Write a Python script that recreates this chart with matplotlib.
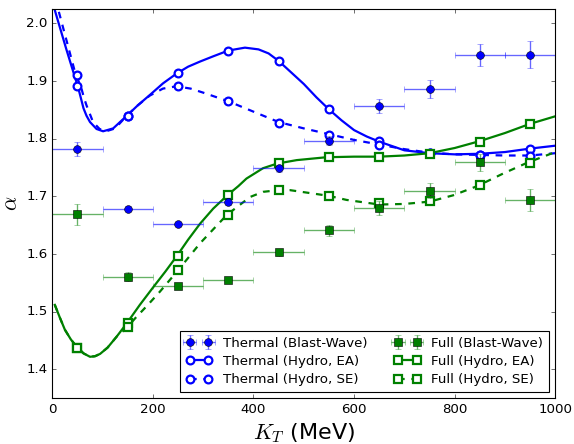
import numpy as np
import matplotlib
matplotlib.use("Agg")
from matplotlib import pyplot as plt
from matplotlib.lines import Line2D

plt.style.use("classic")

# Binned points (MeV)
kt = np.array([50, 150, 250, 350, 450, 550, 650, 750, 850, 950])
kt_err = np.full(kt.shape, 50)

# Blast-wave fits
thermal_bw = np.array([1.782, 1.679, 1.652, 1.691, 1.749, 1.797, 1.857, 1.886, 1.946, 1.946])
thermal_bw_err = np.array([0.012, 0.004, 0.004, 0.006, 0.006, 0.008, 0.012, 0.016, 0.019, 0.023])
full_bw = np.array([1.669, 1.561, 1.545, 1.555, 1.603, 1.641, 1.680, 1.710, 1.759, 1.694])
full_bw_err = np.array([0.018, 0.008, 0.005, 0.005, 0.006, 0.009, 0.012, 0.013, 0.015, 0.019])

# Hydro points
thermal_ea = np.array([1.910, 1.839, 1.914, 1.953, 1.935, 1.851, 1.796, 1.775, 1.772, 1.783])
thermal_se = np.array([1.891, 1.839, 1.891, 1.865, 1.828, 1.807, 1.790, 1.775, 1.772, 1.771])
full_ea = np.array([1.437, 1.480, 1.596, 1.703, 1.758, 1.768, 1.769, 1.774, 1.794, 1.825])
full_se = np.array([1.437, 1.473, 1.572, 1.667, 1.711, 1.701, 1.689, 1.692, 1.719, 1.758])

# Hydro curves
thermal_ea_kt = [5, 28, 52, 57, 62, 68, 75, 88, 101, 121, 147, 170, 194, 220,
                 247, 270, 294, 320, 350, 383, 410, 430, 450, 475, 500, 525, 550,
                 575, 600, 625, 650, 700, 750, 800, 850, 900, 950, 1000]
thermal_ea_curve = [2.023, 1.955, 1.887, 1.870, 1.853, 1.840, 1.829, 1.817, 1.813,
                    1.818, 1.839, 1.858, 1.876, 1.896, 1.913, 1.925, 1.934,
                    1.943, 1.953, 1.958, 1.955, 1.948, 1.935, 1.915, 1.895, 1.872,
                    1.851, 1.832, 1.815, 1.804, 1.795, 1.780, 1.775, 1.773, 1.774,
                    1.777, 1.783, 1.788]
thermal_se_kt = [5, 10, 45, 58, 63, 68, 81, 94, 107, 125, 147, 170, 194, 220,
                 247, 275, 300, 350, 400, 450, 500, 550, 600, 650, 700, 750, 800,
                 850, 900, 950, 1000]
thermal_se_curve = [2.045, 2.030, 1.916, 1.887, 1.871, 1.858, 1.829, 1.817, 1.813,
                    1.818, 1.839, 1.858, 1.875, 1.887, 1.891, 1.887, 1.880,
                    1.865, 1.847, 1.829, 1.818, 1.808, 1.798, 1.790, 1.782, 1.776,
                    1.773, 1.772, 1.771, 1.771, 1.775]
full_ea_kt = [5, 15, 25, 37, 48, 62, 75, 85, 95, 110, 128, 148, 174, 201, 225, 247,
              270, 294, 320, 348, 370, 386, 419, 447, 486, 545, 600, 650, 700, 750,
              800, 850, 900, 950, 1000]
full_ea_curve = [1.512, 1.490, 1.469, 1.452, 1.440, 1.428, 1.422, 1.423, 1.427,
                 1.438, 1.457, 1.480, 1.512, 1.543, 1.570, 1.596, 1.625, 1.653,
                 1.679, 1.702, 1.718, 1.731, 1.749, 1.757, 1.763, 1.768, 1.769,
                 1.769, 1.771, 1.775, 1.784, 1.796, 1.810, 1.826, 1.839]
full_se_kt = [5, 15, 25, 37, 48, 62, 75, 85, 95, 110, 128, 150, 165, 190, 214, 250,
              294, 347, 393, 419, 450, 472, 519, 550, 585, 650, 700, 750, 797, 845,
              897, 943, 1000]
full_se_curve = [1.512, 1.490, 1.469, 1.452, 1.440, 1.428, 1.422, 1.423, 1.427,
                 1.438, 1.457, 1.474, 1.489, 1.512, 1.535, 1.572, 1.619, 1.668,
                 1.699, 1.708, 1.711, 1.711, 1.705, 1.701, 1.694, 1.686, 1.687,
                 1.691, 1.702, 1.718, 1.740, 1.758, 1.777]

blue = "#0000ff"
green = "#008000"

fig = plt.figure(figsize=(574 / 80, 444 / 80), dpi=80)
ax = fig.add_axes([0.0911, 0.1029, 0.8763, 0.8768])

# Curves
ax.plot(thermal_ea_kt, thermal_ea_curve, "-", color=blue, lw=2)
ax.plot(thermal_se_kt, thermal_se_curve, "--", color=blue, lw=2)
ax.plot(full_ea_kt, full_ea_curve, "-", color=green, lw=2)
ax.plot(full_se_kt, full_se_curve, "--", color=green, lw=2)

# Hydro markers
open_kw = dict(ls="none", ms=7, mew=2, mfc="white")
ax.plot(kt, thermal_ea, "o", mec=blue, **open_kw)
ax.plot(kt, thermal_se, "o", mec=blue, **open_kw)
ax.plot(kt, full_ea, "s", mec=green, **open_kw)
ax.plot(kt, full_se, "s", mec=green, **open_kw)

# Blast-wave points
handles = []
for y, yerr, marker, color in [
    (thermal_bw, thermal_bw_err, "o", blue),
    (full_bw, full_bw_err, "s", green),
]:
    eb = ax.errorbar(kt, y, xerr=kt_err, yerr=yerr, fmt=marker, color=color,
                     ecolor=color, mfc=color, mec="black", ms=7, capsize=3,
                     elinewidth=1.2)
    for art in eb[1]:
        art.set_alpha(0.6)
    for art in eb[2]:
        art.set_alpha(0.6)
    handles.append(eb)


def proxy(marker, color, ls):
    return Line2D([], [], color=color, ls=ls, lw=2, marker=marker, ms=7, mew=2,
                  mfc="white", mec=color)


handles = [
    handles[0], proxy("o", blue, "-"), proxy("o", blue, "--"),
    handles[1], proxy("s", green, "-"), proxy("s", green, "--"),
]
labels = [
    "Thermal (Blast-Wave)", "Thermal (Hydro, EA)", "Thermal (Hydro, SE)",
    "Full (Blast-Wave)", "Full (Hydro, EA)", "Full (Hydro, SE)",
]
ax.legend(handles, labels, loc="lower right", ncol=2, numpoints=2, fontsize=12,
          handlelength=2.0, columnspacing=2.0, labelspacing=0.4,
          handletextpad=0.8, borderpad=0.4)

ax.set_xlim(0, 1000)
ax.set_ylim(1.35, 2.025)
ax.set_xticks(np.arange(0, 1001, 200))
ax.set_yticks(np.arange(1.4, 2.01, 0.1))
ax.tick_params(labelsize=12)
ax.set_xlabel(r"$K_T$ (MeV)", fontsize=20)
ax.set_ylabel(r"$\alpha$", fontsize=20)

fig.savefig("out.png", dpi=80, facecolor="white")
